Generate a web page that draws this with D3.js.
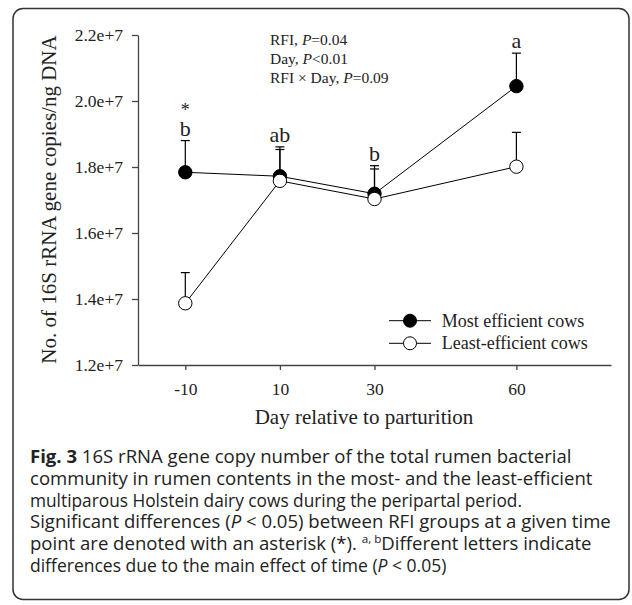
<!DOCTYPE html>
<html><head><meta charset="utf-8">
<script src="https://cdn.jsdelivr.net/npm/d3@7"></script>
<style>body{margin:0;background:#fff;} svg{display:block}</style>
</head><body>
<svg id="c" width="632" height="605"></svg>
<script>
// ---- data ----
const days = [-10, 10, 30, 60];
const mostEfficient = [1.784e7, 1.772e7, 1.719e7, 2.045e7];
const mostEfficientSE = [0.096e7, 0.089e7, 0.085e7, 0.100e7];
const leastEfficient = [1.387e7, 1.758e7, 1.703e7, 1.801e7];
const leastEfficientSE = [0.093e7, 0.095e7, 0.091e7, 0.104e7];
const timeLetters = ["b", "ab", "b", "a"];
const rfiStars = ["*", "", "", ""];
const yTicks = [1.2e7, 1.4e7, 1.6e7, 1.8e7, 2.0e7, 2.2e7];
const xTicks = [-10, 10, 30, 60];
const seriesNames = ["Most efficient cows", "Least-efficient cows"];
const statsLines = [["RFI, ", "P", "=0.04"], ["Day, ", "P", "<0.01"], ["RFI × Day, ", "P", "=0.09"]];
const captionLines = [
  [["b","Fig. 3"],["n"," 16S rRNA gene copy number of the total rumen bacterial"]],
  [["n","community in rumen contents in the most- and the least-efficient"]],
  [["n","multiparous Holstein dairy cows during the peripartal period."]],
  [["n","Significant differences ("],["i","P"],["n"," < 0.05) between RFI groups at a given time"]],
  [["n","point are denoted with an asterisk (*). "],["s","a, b"],["n","Different letters indicate"]],
  [["n","differences due to the main effect of time ("],["i","P"],["n"," < 0.05)"]]
];
const captionWidths = [549, 565, 492, 582, 568, 0];

const svg = d3.select("#c");
const serif = "'Liberation Serif','Times New Roman',serif";

// frame
svg.append("rect").attr("x", 13).attr("y", 8.5).attr("width", 616).attr("height", 591)
  .attr("rx", 10).attr("fill", "none").attr("stroke", "#333").attr("stroke-width", 1.5);

const x = d3.scaleLinear().domain([-20, 80]).range([138, 611]);
const y = d3.scaleLinear().domain([1.2e7, 2.2e7]).range([365, 35]);

// axes
const gy = svg.append("g").attr("transform", `translate(${x(-20)},0)`)
  .call(d3.axisLeft(y).tickValues(yTicks).tickFormat(d3.format(".1e")).tickSize(6).tickPadding(9).tickSizeOuter(0));
gy.selectAll("text").attr("font-family", serif).attr("font-size", 17.5).attr("fill", "#222");
const gx = svg.append("g").attr("transform", `translate(0,${y(1.2e7)})`)
  .call(d3.axisBottom(x).tickValues(xTicks).tickFormat(d => String(d)).tickSize(5).tickSizeOuter(0));
gx.selectAll("text").attr("font-family", serif).attr("font-size", 17.5).attr("fill", "#222").attr("y", 30).attr("dy", 0);
svg.selectAll(".domain, .tick line").attr("stroke", "#444").attr("stroke-width", 1.3);

// titles
svg.append("text").attr("x", 364).attr("y", 424).attr("text-anchor", "middle")
  .attr("font-family", serif).attr("font-size", 21).attr("fill", "#222").text("Day relative to parturition");
svg.append("text").attr("transform", "translate(56,199.5) rotate(-90)").attr("text-anchor", "middle")
  .attr("font-family", serif).attr("font-size", 21).attr("fill", "#222").text("No. of 16S rRNA gene copies/ng DNA");

// stats annotation
statsLines.forEach((parts, i) => {
  const t = svg.append("text").attr("x", 270).attr("y", 45 + i * 19)
    .attr("font-family", serif).attr("font-size", 15.5).attr("fill", "#222");
  parts.forEach((p, j) => t.append("tspan").attr("font-style", j === 1 ? "italic" : "normal").text(p));
});

const series = [
  {vals: mostEfficient, se: mostEfficientSE, fill: "#000"},
  {vals: leastEfficient, se: leastEfficientSE, fill: "#fff"}
];
const line = d3.line().x((d, i) => x(days[i])).y(d => y(d));

// error bars
series.forEach(s => {
  const g = svg.append("g").attr("stroke", "#000").attr("stroke-width", 1.2);
  s.vals.forEach((v, i) => {
    const top = y(v + s.se[i]);
    g.append("line").attr("x1", x(days[i])).attr("x2", x(days[i])).attr("y1", y(v)).attr("y2", top);
    g.append("line").attr("x1", x(days[i]) - 4.5).attr("x2", x(days[i]) + 4.5).attr("y1", top).attr("y2", top);
  });
});
// lines
series.forEach(s => {
  svg.append("path").attr("d", line(s.vals)).attr("fill", "none").attr("stroke", "#000").attr("stroke-width", 1);
});
// points
series.forEach(s => {
  svg.append("g").selectAll("circle").data(s.vals).join("circle")
    .attr("cx", (d, i) => x(days[i])).attr("cy", d => y(d)).attr("r", 6.7)
    .attr("fill", s.fill).attr("stroke", "#000").attr("stroke-width", 1);
});

// significance letters
days.forEach((d, i) => {
  const top = Math.min(y(mostEfficient[i] + mostEfficientSE[i]), y(leastEfficient[i] + leastEfficientSE[i]));
  svg.append("text").attr("x", x(d)).attr("y", top - 5).attr("text-anchor", "middle")
    .attr("font-family", serif).attr("font-size", 22).attr("fill", "#222").text(timeLetters[i]);
  if (rfiStars[i]) {
    svg.append("text").attr("x", x(d)).attr("y", top - 25).attr("text-anchor", "middle")
      .attr("font-family", serif).attr("font-size", 18).attr("fill", "#222").text(rfiStars[i]);
  }
});

// legend
seriesNames.forEach((name, i) => {
  const ly = 320.7 + i * 22.6;
  svg.append("line").attr("x1", 389).attr("x2", 431).attr("y1", ly).attr("y2", ly).attr("stroke", "#000").attr("stroke-width", 1);
  svg.append("circle").attr("cx", 410).attr("cy", ly).attr("r", 6.5).attr("fill", series[i].fill).attr("stroke", "#000");
  svg.append("text").attr("x", 441.7).attr("y", ly + 6).attr("font-family", serif).attr("font-size", 18).attr("fill", "#222").text(name);
});

// caption
captionLines.forEach((parts, i) => {
  const t = svg.append("text").attr("x", 30).attr("y", 463 + i * 21.8)
    .attr("font-family", "'Open Sans', 'Noto Sans', sans-serif").attr("font-size", 17.5).attr("fill", "#222");
  parts.forEach(([k, s]) => {
    const sp = t.append("tspan").text(s);
    if (k === "b") sp.attr("font-weight", "bold");
    if (k === "i") sp.attr("font-style", "italic");
    if (k === "s") { sp.attr("font-size", 11).attr("baseline-shift", "super"); }
  });
  const w = t.node().getComputedTextLength();
  let target = captionWidths[i] ? captionWidths[i] : w;
  target = Math.min(Math.max(target, w * 0.94), w * 1.06, 592);
  t.attr("textLength", target).attr("lengthAdjust", "spacingAndGlyphs");
});
</script>
</body></html>
